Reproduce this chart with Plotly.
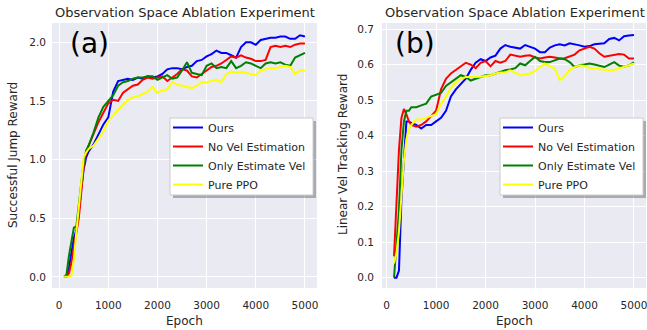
import plotly.graph_objects as go

W, H = 647, 330

# ---------------- data: panel (a) ----------------
epochs_a = [100, 150, 200, 250, 300, 350, 400, 450, 500, 550, 600, 700, 800, 900,
            1000, 1100, 1200, 1300, 1400, 1500, 1600, 1700, 1800, 1900, 2000,
            2100, 2200, 2300, 2400, 2500, 2600, 2700, 2800, 2900, 3000,
            3100, 3200, 3300, 3400, 3500, 3600, 3700, 3800, 3900, 4000,
            4100, 4200, 4300, 4400, 4500, 4600, 4700, 4800, 4900, 5000]
ours_a = [0.00, 0.00, 0.08, 0.20, 0.33, 0.40, 0.55, 0.75, 0.92, 1.02, 1.07, 1.13, 1.22, 1.30,
          1.36, 1.58, 1.67, 1.68, 1.69, 1.68, 1.70, 1.69, 1.71, 1.70, 1.71,
          1.73, 1.77, 1.78, 1.78, 1.77, 1.79, 1.80, 1.84, 1.85, 1.88,
          1.90, 1.93, 1.91, 1.91, 1.89, 1.87, 1.96, 2.00, 2.00, 1.98,
          2.02, 2.03, 2.04, 2.04, 2.05, 2.05, 2.03, 2.03, 2.06, 2.05]
novel_a = [0.00, 0.00, 0.03, 0.12, 0.25, 0.36, 0.50, 0.72, 0.95, 1.06, 1.12, 1.22, 1.32, 1.40,
           1.48, 1.51, 1.50, 1.57, 1.60, 1.63, 1.64, 1.68, 1.70, 1.69, 1.70,
           1.71, 1.67, 1.70, 1.73, 1.77, 1.76, 1.71, 1.70, 1.73, 1.76,
           1.79, 1.80, 1.82, 1.85, 1.88, 1.87, 1.89, 1.87, 1.86, 1.84,
           1.84, 1.85, 1.96, 1.97, 1.96, 1.97, 1.96, 1.98, 1.99, 1.99]
onlyest_a = [0.00, 0.02, 0.18, 0.30, 0.42, 0.43, 0.62, 0.82, 0.98, 1.08, 1.12, 1.23, 1.36, 1.45,
             1.50, 1.55, 1.63, 1.66, 1.67, 1.69, 1.70, 1.70, 1.71, 1.71, 1.68,
             1.70, 1.72, 1.69, 1.70, 1.76, 1.83, 1.74, 1.73, 1.72, 1.80,
             1.82, 1.78, 1.79, 1.78, 1.84, 1.78, 1.80, 1.83, 1.82, 1.80,
             1.78, 1.82, 1.83, 1.82, 1.83, 1.81, 1.80, 1.87, 1.89, 1.91]
ppo_a = [0.00, 0.00, 0.00, 0.01, 0.15, 0.38, 0.60, 0.82, 1.02, 1.06, 1.09, 1.12, 1.18, 1.24,
         1.33, 1.38, 1.43, 1.47, 1.51, 1.53, 1.54, 1.56, 1.58, 1.62, 1.57,
         1.59, 1.60, 1.66, 1.64, 1.63, 1.62, 1.61, 1.63, 1.66, 1.66,
         1.67, 1.68, 1.66, 1.73, 1.75, 1.74, 1.75, 1.74, 1.73, 1.72,
         1.76, 1.77, 1.78, 1.78, 1.79, 1.80, 1.79, 1.73, 1.76, 1.76]

# ---------------- data: panel (b) ----------------
epochs_b = [150, 200, 250, 300, 350, 400, 450, 500, 600, 700, 800, 900,
            1000, 1100, 1200, 1300, 1400, 1500, 1600, 1700, 1800, 1900, 2000,
            2100, 2200, 2300, 2400, 2500, 2600, 2700, 2800, 2900, 3000,
            3100, 3200, 3300, 3400, 3500, 3600, 3700, 3800, 3900, 4000,
            4100, 4200, 4300, 4400, 4500, 4600, 4700, 4800, 4900, 5000]
ours_b = [0.00, 0.00, 0.02, 0.22, 0.33, 0.44, 0.44, 0.435, 0.43, 0.42, 0.43, 0.43,
          0.44, 0.45, 0.47, 0.51, 0.53, 0.545, 0.56, 0.585, 0.605, 0.615, 0.61,
          0.62, 0.625, 0.645, 0.655, 0.65, 0.648, 0.645, 0.655, 0.65, 0.645,
          0.635, 0.635, 0.648, 0.654, 0.657, 0.654, 0.66, 0.658, 0.654, 0.65,
          0.652, 0.657, 0.658, 0.66, 0.672, 0.675, 0.668, 0.68, 0.682, 0.683]
novel_b = [0.06, 0.22, 0.36, 0.45, 0.475, 0.46, 0.44, 0.43, 0.425, 0.43, 0.44, 0.455,
           0.47, 0.53, 0.56, 0.575, 0.585, 0.595, 0.605, 0.60, 0.59, 0.605, 0.61,
           0.595, 0.61, 0.605, 0.61, 0.628, 0.625, 0.622, 0.625, 0.626, 0.62,
           0.617, 0.62, 0.622, 0.62, 0.617, 0.618, 0.622, 0.628, 0.64, 0.645,
           0.65, 0.645, 0.632, 0.622, 0.624, 0.626, 0.63, 0.628, 0.617, 0.617]
onlyest_b = [0.00, 0.09, 0.19, 0.36, 0.44, 0.47, 0.47, 0.48, 0.48, 0.485, 0.49, 0.51,
             0.515, 0.52, 0.54, 0.55, 0.56, 0.57, 0.565, 0.555, 0.56, 0.565, 0.57,
             0.57, 0.575, 0.578, 0.584, 0.586, 0.59, 0.603, 0.598, 0.61, 0.622,
             0.61, 0.607, 0.607, 0.612, 0.617, 0.615, 0.607, 0.593, 0.598, 0.60,
             0.603, 0.60, 0.597, 0.593, 0.60, 0.607, 0.597, 0.594, 0.598, 0.607]
ppo_b = [0.04, 0.07, 0.13, 0.24, 0.33, 0.39, 0.42, 0.43, 0.445, 0.445, 0.45, 0.455,
         0.46, 0.49, 0.51, 0.535, 0.55, 0.56, 0.565, 0.565, 0.565, 0.566, 0.568,
         0.57, 0.575, 0.578, 0.578, 0.584, 0.577, 0.57, 0.572, 0.575, 0.582,
         0.592, 0.603, 0.595, 0.589, 0.556, 0.568, 0.585, 0.593, 0.598, 0.596,
         0.59, 0.588, 0.586, 0.584, 0.584, 0.585, 0.589, 0.592, 0.598, 0.603]

names = ["Ours", "No Vel Estimation", "Only Estimate Vel", "Pure PPO"]
colors = ["#0000ff", "#ff0000", "#008000", "#ffff00"]

TITLE = "Observation Space Ablation Experiment"
FONT = "DejaVu Sans"
TXT = "#262626"
BG = "#eaeaf2"

fig = go.Figure()
for name, col, ys in zip(names, colors, [ours_a, novel_a, onlyest_a, ppo_a]):
    fig.add_trace(go.Scatter(x=epochs_a, y=ys, mode="lines", name=name,
                             line=dict(color=col, width=2), xaxis="x", yaxis="y",
                             legend="legend"))
for name, col, ys in zip(names, colors, [ours_b, novel_b, onlyest_b, ppo_b]):
    fig.add_trace(go.Scatter(x=epochs_b, y=ys, mode="lines", name=name,
                             line=dict(color=col, width=2), xaxis="x2", yaxis="y2",
                             legend="legend2"))

def px(x):
    return x / W

def py(y):
    return 1 - y / H

ydom = [py(288), py(23)]
axis_common = dict(showgrid=True, gridcolor="white", gridwidth=1, zeroline=False,
                   showline=False, ticks="", ticklabeloverflow="allow",
                   tickfont=dict(family=FONT, size=10.5, color=TXT))

legend_common = dict(xanchor="left", yanchor="top", bgcolor="rgba(0,0,0,0)",
                     borderwidth=0, font=dict(family=FONT, size=11, color=TXT))

fig.update_layout(
    width=W, height=H, margin=dict(l=0, r=0, t=0, b=0),
    paper_bgcolor="white", plot_bgcolor=BG,
    font=dict(family=FONT, color=TXT),
    xaxis=dict(domain=[px(52), px(317)], range=[-145, 5245], anchor="y",
               tickvals=[0, 1000, 2000, 3000, 4000, 5000], ticklabelstandoff=9, **axis_common),
    yaxis=dict(domain=ydom, range=[-0.095, 2.165], anchor="x",
               tickvals=[0.0, 0.5, 1.0, 1.5, 2.0], tickformat=".1f", ticklabelstandoff=5, **axis_common),
    xaxis2=dict(domain=[px(382), px(646)], range=[-93, 5243], anchor="y2",
                tickvals=[0, 1000, 2000, 3000, 4000, 5000], ticklabelstandoff=9, **axis_common),
    yaxis2=dict(domain=ydom, range=[-0.029, 0.717], anchor="x2",
                tickvals=[0.0, 0.1, 0.2, 0.3, 0.4, 0.5, 0.6, 0.7], tickformat=".1f",
                ticklabelstandoff=7, **axis_common),
    legend=dict(x=px(168), y=py(113), **legend_common),
    legend2=dict(x=px(498), y=py(113), **legend_common),
)

ann = []
for cx in (184.5, 514.5):
    ann.append(dict(text=TITLE, x=px(cx), y=py(12), xref="paper", yref="paper",
                    xanchor="center", yanchor="middle", showarrow=False,
                    font=dict(family=FONT, size=13, color=TXT)))
    ann.append(dict(text="Epoch", x=px(cx), y=py(321), xref="paper", yref="paper",
                    xanchor="center", yanchor="middle", showarrow=False,
                    font=dict(family=FONT, size=12, color=TXT)))
ann.append(dict(text="Successful Jump Reward", x=px(13), y=py(155), xref="paper", yref="paper",
                xanchor="center", yanchor="middle", showarrow=False, textangle=-90,
                font=dict(family=FONT, size=12, color=TXT)))
ann.append(dict(text="Linear Vel Tracking Reward", x=px(343), y=py(155), xref="paper", yref="paper",
                xanchor="center", yanchor="middle", showarrow=False, textangle=-90,
                font=dict(family=FONT, size=12, color=TXT)))
ann.append(dict(text="(a)", x=px(89.5), y=py(44), xref="paper", yref="paper",
                xanchor="center", yanchor="middle", showarrow=False,
                font=dict(family=FONT, size=28, color="black")))
ann.append(dict(text="(b)", x=px(414.5), y=py(43), xref="paper", yref="paper",
                xanchor="center", yanchor="middle", showarrow=False,
                font=dict(family=FONT, size=28, color="black")))
fig.update_layout(annotations=ann)

# legend frames with drop shadows (drawn beneath the legend entries)
shapes = []
for x0 in (170, 500):
    shapes.append(dict(type="rect", xref="paper", yref="paper", layer="above",
                       x0=px(x0 + 3), x1=px(x0 + 146), y0=py(198), y1=py(121),
                       fillcolor="rgba(0,0,0,0.28)", line=dict(width=0)))
    shapes.append(dict(type="rect", xref="paper", yref="paper", layer="above",
                       x0=px(x0), x1=px(x0 + 143), y0=py(195), y1=py(118),
                       fillcolor="white", line=dict(color="#cccccc", width=1)))
fig.update_layout(shapes=shapes)

fig.write_html("out.html")
